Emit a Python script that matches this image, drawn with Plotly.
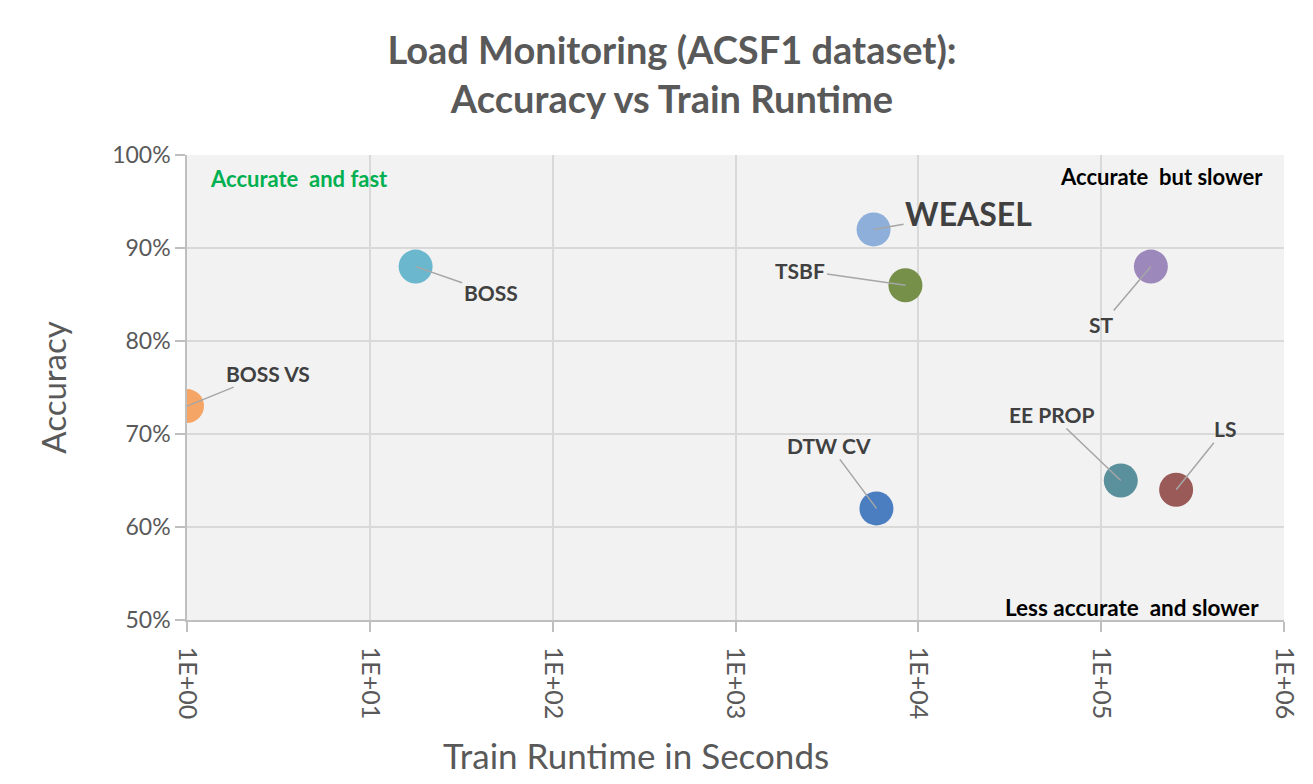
import math
import plotly.graph_objects as go

methods = ["BOSS VS", "BOSS", "WEASEL", "TSBF", "ST", "EE PROP", "LS", "DTW CV"]
runtime_s = [1.0, 17.8, 5690, 8500, 187000, 128000, 257000, 5900]
accuracy = [0.73, 0.88, 0.92, 0.86, 0.88, 0.65, 0.64, 0.62]
colors = ["#F5A565", "#6BB8CE", "#8DAFDA", "#76904A", "#9D88BC", "#5A8F9C", "#9A5A58", "#4A7EC0"]
# label offsets in pixels (style)
label_ax = [81, 75, 95, -105, -49, -69, 49, -47]
label_ay = [-33, 26, -16, -15, 58, -66, -61, -63]
label_size = [21, 21, 32, 21, 21, 21, 21, 21]

x_tickvals = [1, 10, 100, 1000, 10000, 100000, 1000000]
x_ticktext = ["1E+00", "1E+01", "1E+02", "1E+03", "1E+04", "1E+05", "1E+06"]

FONT = "Lato"
fig = go.Figure()
for m, x, y, c in zip(methods, runtime_s, accuracy, colors):
    fig.add_trace(go.Scatter(x=[x], y=[y], mode="markers", name=m,
                             marker=dict(size=34, color=c, line=dict(width=0)),
                             showlegend=False))

for m, x, y, ax, ay, fs in zip(methods, runtime_s, accuracy, label_ax, label_ay, label_size):
    fig.add_annotation(x=math.log10(x), y=y, text="<b>%s</b>" % m,
                       showarrow=True, arrowhead=0, arrowwidth=1.5, arrowcolor="#A6A6A6",
                       ax=ax, ay=ay, font=dict(family=FONT, size=fs, color="#404040"))

fig.add_annotation(xref="paper", yref="paper", x=0.019, y=0.95, xanchor="left", yanchor="middle",
                   text="<b>Accurate  and fast</b>", showarrow=False,
                   font=dict(family=FONT, size=22, color="#00B050"))
fig.add_annotation(xref="paper", yref="paper", x=0.983, y=0.953, xanchor="right", yanchor="middle",
                   text="<b>Accurate  but slower</b>", showarrow=False,
                   font=dict(family=FONT, size=22, color="#000000"))
fig.add_annotation(xref="paper", yref="paper", x=0.979, y=0.026, xanchor="right", yanchor="middle",
                   text="<b>Less accurate  and slower</b>", showarrow=False,
                   font=dict(family=FONT, size=22.5, color="#000000"))

# x axis title placed as an annotation (off-centre as in the reference)
fig.add_annotation(xref="paper", yref="paper", x=(637 - 187) / 1099, y=-(755 - 620) / 465,
                   xanchor="center", yanchor="middle", text="Train Runtime in Seconds",
                   showarrow=False, font=dict(family=FONT, size=35, color="#595959"))

fig.update_layout(
    width=1313, height=784,
    margin=dict(l=187, r=27, t=155, b=164),
    paper_bgcolor="white", plot_bgcolor="#F2F2F2",
    title=dict(text="<b>Load Monitoring (ACSF1 dataset):<br>Accuracy vs Train Runtime</b>",
               x=672 / 1313, xanchor="center", y=1 - 64 / 784, yanchor="middle",
               font=dict(family=FONT, size=38, color="#595959")),
    font=dict(family=FONT, color="#595959"),
)
fig.update_xaxes(type="log", range=[0, 6], tickvals=x_tickvals, ticktext=x_ticktext,
                 tickangle=90, tickfont=dict(size=25, color="#595959"),
                 ticklabelstandoff=10,
                 showgrid=True, gridcolor="#D9D9D9", gridwidth=1.5,
                 showline=True, linecolor="#BFBFBF", linewidth=1.5,
                 ticks="outside", ticklen=10, tickcolor="#BFBFBF", tickwidth=1.5,
                 zeroline=False)
fig.update_yaxes(range=[0.5, 1.0], dtick=0.1, tick0=0.5, tickformat=".0%",
                 tickfont=dict(size=23, color="#595959"),
                 showgrid=True, gridcolor="#D9D9D9", gridwidth=1.5,
                 showline=True, linecolor="#BFBFBF", linewidth=1.5,
                 ticks="outside", ticklen=10, tickcolor="#BFBFBF", tickwidth=1.5,
                 zeroline=False,
                 title=dict(text="Accuracy", font=dict(size=33, color="#595959"), standoff=36))

fig.write_html("out.html")
